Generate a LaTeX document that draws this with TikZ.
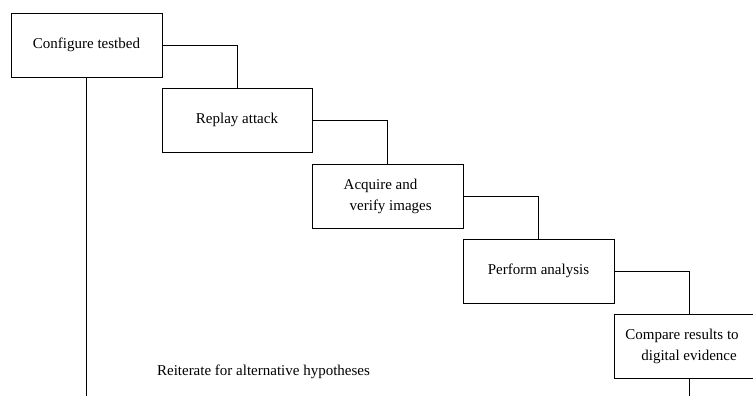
\documentclass[tikz,border=0pt]{standalone}
\usepackage{fontspec}
\setmainfont{Liberation Serif}
\begin{document}
\begin{tikzpicture}[x=1pt,y=-1pt,
  stepbox/.style={draw=black,line width=0.9pt,rectangle,minimum height=64pt,
    inner sep=0pt,align=left,font=\fontsize{15}{21}\selectfont},
  link/.style={draw=black,line width=0.9pt},
  note/.style={font=\fontsize{15}{21}\selectfont,inner sep=0pt}]
\useasboundingbox (0,0) rectangle (753,396);

% process stages, stepping down to the right
\node[stepbox,minimum width=151pt] (b1) at (86.5,45) {Configure testbed};
\node[stepbox,minimum width=150pt] (b2) at (237,120) {Replay attack};
\node[stepbox,minimum width=150.5pt] (b3) at (387.7,196) {Acquire and\\\hspace*{6pt}verify images};
\node[stepbox,minimum width=151pt] (b4) at (538.5,271) {Perform analysis};
\node[stepbox,minimum width=150pt] (b5) at (689,346) {Compare results to\hspace*{14pt}\\\hspace*{16pt}digital evidence};

% elbow connectors between consecutive stages
\draw[link] (b1.east) -| (b2.north);
\draw[link] (b2.east) -| (b3.north);
\draw[link] (b3.east) -| (b4.north);
\draw[link] (b4.east) -| (b5.north);

% iteration loop lines running off the bottom
\coordinate (loopL) at (b1.south |- 0,396);
\coordinate (loopR) at (b5.south |- 0,396);
\draw[link] (b1.south) -- (loopL);
\draw[link] (b5.south) -- (loopR);

\node[note,anchor=base] (iter) at (263.5,375) {Reiterate for alternative hypotheses};
\end{tikzpicture}
\end{document}
